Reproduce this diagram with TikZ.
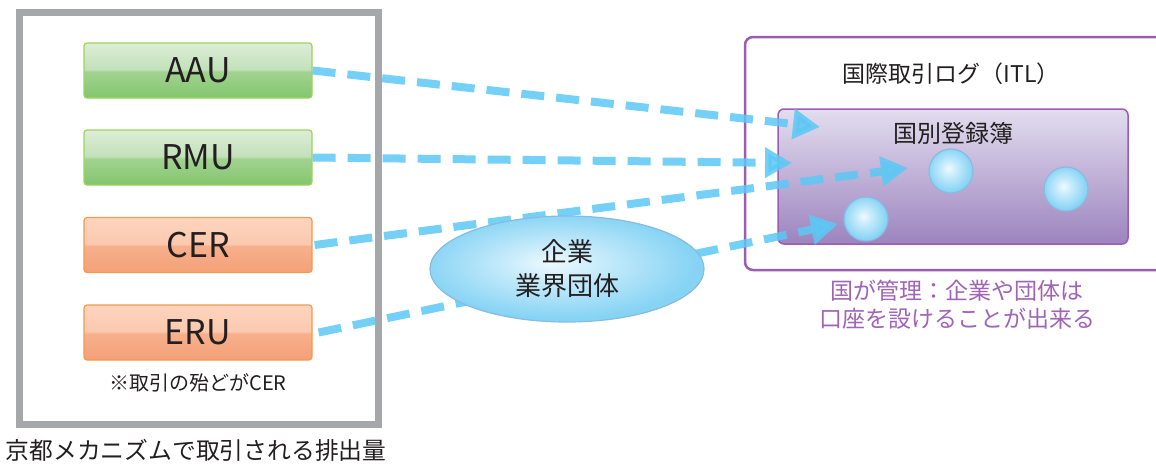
\documentclass[tikz,border=0pt]{standalone}
\usepackage{fontspec}
\setmainfont{Noto Sans CJK JP}
\usetikzlibrary{arrows.meta,shapes.geometric}
\definecolor{txt}{HTML}{231F20}
\definecolor{frame}{HTML}{A6A7AB}
\definecolor{gtop}{HTML}{DDEDD7}
\definecolor{gmid}{HTML}{C3E1BA}
\definecolor{gmid2}{HTML}{A2D391}
\definecolor{gbot}{HTML}{82C66D}
\definecolor{gline}{HTML}{9DD45A}
\definecolor{otop}{HTML}{FCD4BF}
\definecolor{omid}{HTML}{FBC9AE}
\definecolor{omid2}{HTML}{F7B08C}
\definecolor{obot}{HTML}{F4A077}
\definecolor{oline}{HTML}{F29A4E}
\definecolor{purp}{HTML}{9B5CB2}
\definecolor{ptop}{HTML}{E3DDEF}
\definecolor{pbot}{HTML}{9C84BE}
\definecolor{ptext}{HTML}{A063B5}
\definecolor{arr}{HTML}{5CC8F5}
\definecolor{bcen}{HTML}{EEFAFF}
\definecolor{bedge}{HTML}{86D3F4}
\definecolor{bline}{HTML}{86BCE4}
\pgfdeclareverticalshading{greengloss}{100bp}{color(0bp)=(gbot); color(25bp)=(gbot); color(49bp)=(gmid2); color(51bp)=(gmid); color(75bp)=(gtop); color(100bp)=(gtop)}
\pgfdeclareverticalshading{orangegloss}{100bp}{color(0bp)=(obot); color(25bp)=(obot); color(49bp)=(omid2); color(51bp)=(omid); color(75bp)=(otop); color(100bp)=(otop)}
\pgfdeclareradialshading{bubble}{\pgfpoint{-3bp}{3bp}}{color(0bp)=(bcen); color(8bp)=(bcen!65!bedge); color(25bp)=(bedge); color(50bp)=(bedge)}
\tikzset{
  unitbox/.style={draw, line width=1.2pt, rounded corners=3pt, minimum width=228pt, minimum height=55pt, inner sep=0pt, font=\fontsize{34}{34}\selectfont, text=txt},
  greenbox/.style={unitbox, draw=gline, shading=greengloss},
  orangebox/.style={unitbox, draw=oline, shading=orangegloss},
  flow/.style={draw=arr, line width=8pt, opacity=0.85, dash pattern=on 23pt off 12pt, -{Triangle[length=27pt,width=29pt,fill=arr]}},
  acct/.style={circle, draw=bline, line width=1.2pt, minimum size=44pt, inner sep=0pt, shading=bubble},
  lbl/.style={text=txt, inner sep=0pt}
}
\begin{document}
\begin{tikzpicture}[x=1pt,y=-1pt]
\useasboundingbox (0,0) rectangle (1156,464);
% left frame
\draw[frame, line width=7pt] (19.5,12.5) rectangle (378.5,424.5);
\node[greenbox] (aau) at (198,70.5) {AAU};
\node[greenbox] (rmu) at (198,157.5) {RMU};
\node[orangebox] (cer) at (198,245) {CER};
\node[orangebox] (eru) at (198,332.5) {ERU};
\node[lbl, font=\fontsize{20}{20}\selectfont] (note) at (198,383) {※取引の殆どがCER};
\node[lbl, font=\fontsize{23.8}{24}\selectfont] (cap) at (196,450) {京都メカニズムで取引される排出量};
% ITL
\draw[purp, line width=2.5pt, rounded corners=8pt] (1170,37) -- (745,37) -- (745,270) -- (1170,270);
\node[lbl, font=\fontsize{23}{23}\selectfont] (itl) at (951,74) {国際取引ログ（ITL）};
\node[draw=purp, line width=1.5pt, rounded corners=6pt, top color=ptop, bottom color=pbot, minimum width=350pt, minimum height=135pt, inner sep=0pt] (reg) at (953,176.5) {};
\node[lbl, font=\fontsize{24}{24}\selectfont] (regt) at (953,133) {国別登録簿};
\node[acct] (c1) at (951,171) {};
\node[acct] (c2) at (1066,189) {};
\node[acct] (c3) at (866,219) {};
\node[text=ptext, inner sep=0pt, align=center, font=\fontsize{23}{28}\selectfont] (mgmt) at (957,305) {国が管理：企業や団体は\\口座を設けることが出来る};
% tips
\coordinate (t1) at (820,127);
\coordinate (t2) at (792,163);
\coordinate (t3) at (908,168);
\coordinate (t4) at (838,224);
\draw[flow] (aau.east) -- (t1);
\draw[flow] (rmu.east) -- (t2);
\draw[flow] ([xshift=2pt]cer.east) -- (t3);
\draw[flow] ([xshift=6pt]eru.east) -- (t4);
% ellipse
\node[ellipse, draw=bline, line width=1.2pt, shading=bubble, minimum width=274pt, minimum height=106pt, inner sep=0pt] (corp) at (567,269) {};
\node[lbl, align=center, font=\fontsize{26}{34}\selectfont] (corpt) at (567,269) {企業\\業界団体};
\end{tikzpicture}
\end{document}
